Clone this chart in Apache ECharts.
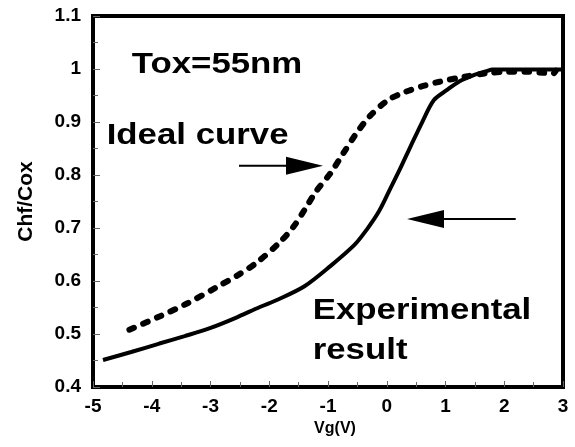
<!DOCTYPE html>
<html>
<head>
<meta charset="utf-8">
<script src="https://cdn.jsdelivr.net/npm/echarts@6/dist/echarts.min.js"></script>
<style>
  html, body { margin: 0; padding: 0; background: #fff; }
  #chart { width: 575px; height: 447px; }
</style>
</head>
<body>
<div id="chart"></div>
<script>
// measured curve (solid)
const vgExperimental = [-4.83, -4.35, -3.87, -3.44, -3.01, -2.58, -2.16, -1.85, -1.40, -0.96, -0.55, -0.34, -0.14, 0.05, 0.22, 0.41, 0.60, 0.80, 1.02, 1.24, 1.47, 1.70, 1.80, 3.00]
const chfExperimental = [0.451, 0.466, 0.482, 0.496, 0.511, 0.530, 0.551, 0.565, 0.590, 0.628, 0.668, 0.697, 0.730, 0.772, 0.810, 0.855, 0.899, 0.941, 0.960, 0.977, 0.988, 0.996, 0.999, 0.999]

// ideal curve (dotted)
const vgIdeal = [-4.38, -3.87, -3.41, -2.90, -2.52, -2.21, -1.84, -1.59, -1.40, -1.21, -0.96, -0.745, -0.527, -0.28, 0.03, 0.30, 0.62, 0.90, 1.30, 1.70, 2.04, 2.38, 2.66, 2.83, 2.88]
const chfIdeal = [0.508, 0.533, 0.557, 0.588, 0.612, 0.635, 0.671, 0.702, 0.734, 0.768, 0.803, 0.840, 0.877, 0.912, 0.942, 0.956, 0.968, 0.976, 0.985, 0.992, 0.995, 0.995, 0.993, 0.991, 0.997]

// annotations, in data coordinates
const labelTexts = ['Tox=55nm', 'Ideal curve', 'Experimental', 'result']
const labelX = [-4.34, -4.767, -1.26, -1.26]
const labelY = [1.0085, 0.8745, 0.5434, 0.468]

const arrowFrom = [[-2.515, 0.8175], [2.195, 0.717]]
const arrowTo = [[-1.085, 0.8175], [0.345, 0.717]]

const FONT = '"Liberation Sans", Arial, Helvetica, sans-serif'

const zip = (xs, ys) => xs.map((x, i) => [x, ys[i]])

const chart = echarts.init(document.getElementById('chart'))

chart.setOption({
  animation: false,
  grid: {
    left: 93,
    right: 12,
    top: 16,
    bottom: 60,
    show: true,
    borderColor: '#000',
    borderWidth: 4
  },
  xAxis: {
    type: 'value',
    min: -5,
    max: 3,
    interval: 1,
    name: 'Vg(V)',
    nameLocation: 'middle',
    nameGap: 28,
    nameTextStyle: { fontFamily: FONT, fontWeight: 'bold', fontSize: 16, color: '#000', padding: [0, 0, 0, 14] },
    axisLine: { onZero: false, lineStyle: { color: '#000', width: 4 } },
    axisTick: { inside: true, length: 6, lineStyle: { color: '#666', width: 1 } },
    minorTick: { show: true, splitNumber: 2, length: 5, lineStyle: { color: '#666', width: 1 } },
    axisLabel: { fontFamily: FONT, fontWeight: 'bold', fontSize: 19, color: '#000', margin: 10 },
    splitLine: { show: false }
  },
  yAxis: {
    type: 'value',
    min: 0.4,
    max: 1.1,
    interval: 0.1,
    name: 'Chf/Cox',
    nameLocation: 'middle',
    nameRotate: 90,
    nameGap: 56,
    nameTextStyle: { fontFamily: FONT, fontWeight: 'bold', fontSize: 21, color: '#000' },
    axisLine: { onZero: false, lineStyle: { color: '#000', width: 4 } },
    axisTick: { inside: true, length: 7, lineStyle: { color: '#666', width: 1 } },
    minorTick: { show: true, splitNumber: 2, length: 5, lineStyle: { color: '#666', width: 1 } },
    axisLabel: {
      fontFamily: FONT, fontWeight: 'bold', fontSize: 19, color: '#000', margin: 12,
      formatter: v => String(Number(v.toFixed(1)))
    },
    splitLine: { show: false }
  },
  series: [
    {
      name: 'Experimental result',
      type: 'line',
      data: zip(vgExperimental, chfExperimental),
      showSymbol: false,
      smooth: 0.3,
      lineStyle: { color: '#000', width: 4 }
    },
    {
      name: 'Ideal curve',
      type: 'line',
      data: zip(vgIdeal, chfIdeal),
      showSymbol: false,
      smooth: 0.3,
      lineStyle: { color: '#000', width: 6, type: [5, 10], cap: 'round' }
    }
  ]
})

// annotations placed through the axes
const toPx = p => chart.convertToPixel({ gridIndex: 0 }, p)
const elements = []

labelTexts.forEach((t, i) => {
  const p = toPx([labelX[i], labelY[i]])
  elements.push({
    type: 'text',
    x: p[0],
    y: p[1],
    scaleX: 1.16,
    z: 10,
    style: { text: t, font: 'bold 30px ' + FONT, fill: '#000', align: 'left', verticalAlign: 'middle' }
  })
})

arrowFrom.forEach((a, i) => {
  const p1 = toPx(a)
  const p2 = toPx(arrowTo[i])
  const dir = p2[0] > p1[0] ? 1 : -1
  const base = p2[0] - dir * 37
  elements.push({
    type: 'line',
    z: 10,
    shape: { x1: p1[0], y1: p1[1], x2: base, y2: p2[1] },
    style: { stroke: '#000', lineWidth: 2 }
  })
  elements.push({
    type: 'polygon',
    z: 10,
    shape: { points: [[p2[0], p2[1]], [base, p2[1] - 9], [base, p2[1] + 9]] },
    style: { fill: '#000' }
  })
})

chart.setOption({ graphic: elements })
</script>
</body>
</html>
